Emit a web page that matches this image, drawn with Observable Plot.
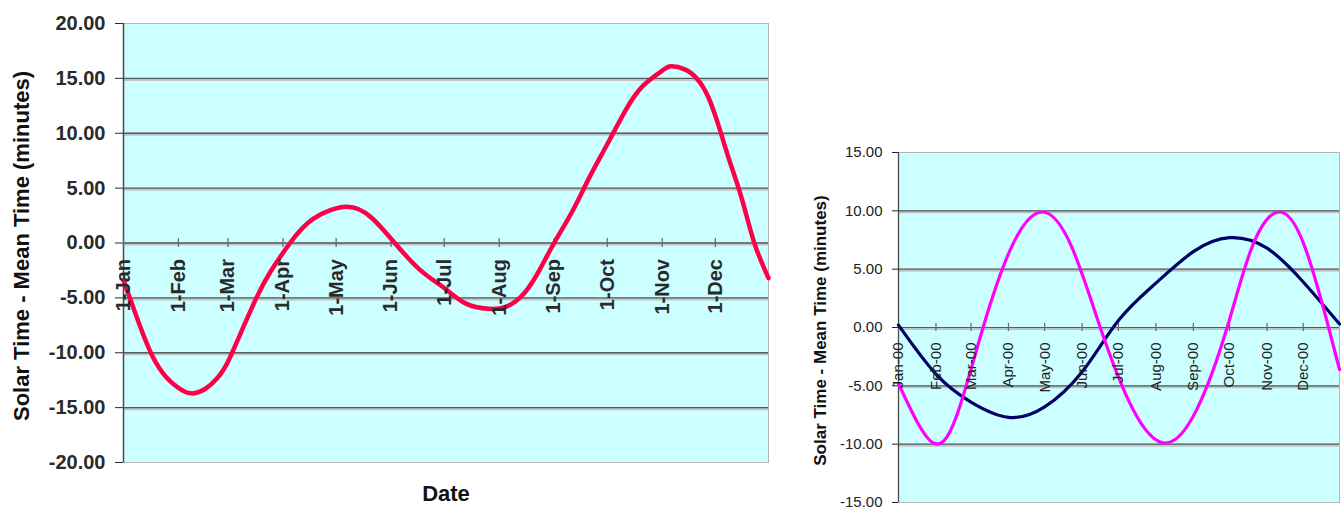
<!DOCTYPE html>
<html>
<head>
<meta charset="utf-8">
<script src="https://cdn.jsdelivr.net/npm/d3@7"></script>
<script src="https://cdn.jsdelivr.net/npm/@observablehq/plot@0.6"></script>
<style>
  html, body { margin: 0; padding: 0; background: #fff; }
  #wrap { position: relative; width: 1344px; height: 510px; overflow: hidden; font-family: "Liberation Sans", Arial, sans-serif; }
  #left { position: absolute; left: 0; top: 0; }
  #right { position: absolute; left: 800px; top: 130px; }
</style>
</head>
<body>
<div id="wrap"><div id="left"></div><div id="right"></div></div>
<script>
// ---------- Left chart data: Equation of time ----------
const leftDates = ["2001-01-01","2001-01-09","2001-01-17","2001-01-25","2001-02-01","2001-02-08","2001-02-16","2001-02-23","2001-03-01","2001-03-09","2001-03-17","2001-03-25","2001-04-05","2001-04-18","2001-05-07","2001-05-21","2001-06-02","2001-06-17","2001-07-01","2001-07-13","2001-07-26","2001-08-05","2001-08-15","2001-08-24","2001-09-01","2001-09-11","2001-09-21","2001-10-01","2001-10-11","2001-10-21","2001-11-01","2001-11-06","2001-11-14","2001-11-21","2001-11-27","2001-12-03","2001-12-09","2001-12-16","2001-12-23","2001-12-31"];
const leftValues = [-3.4,-7.0,-10.2,-12.2,-13.2,-13.7,-13.3,-12.3,-10.8,-7.9,-5.0,-2.6,0.0,2.2,3.3,2.3,0.2,-2.4,-4.1,-5.5,-6.0,-5.8,-4.6,-2.4,0.0,2.8,6.0,9.0,12.0,14.3,15.7,16.1,15.8,14.9,13.3,10.6,7.5,4.0,0.0,-3.2];
const leftMonthTicks = ["2001-01-01","2001-02-01","2001-03-01","2001-04-01","2001-05-01","2001-06-01","2001-07-01","2001-08-01","2001-09-01","2001-10-01","2001-11-01","2001-12-01"];
const leftMonthLabels = ["1-Jan","1-Feb","1-Mar","1-Apr","1-May","1-Jun","1-Jul","1-Aug","1-Sep","1-Oct","1-Nov","1-Dec"];
const leftYTicks = [-20,-15,-10,-5,0,5,10,15,20];
const leftGrid = [-15,-10,-5,0,5,10,15];
const leftDomainX = ["2001-01-01","2001-12-31"];
const leftDomainY = [-20,20];

// ---------- Right chart data: two components ----------
const navyDates = ["2000-01-01","2000-02-01","2000-03-01","2000-04-01","2000-05-01","2000-06-01","2000-07-01","2000-08-01","2000-09-01","2000-10-01","2000-11-01","2000-12-01","2000-12-31"];
const navyValues = [0.2,-4.0,-6.4,-7.7,-6.8,-3.8,0.6,3.8,6.5,7.7,6.8,3.9,0.3];
const magentaDates = ["2000-01-01","2000-01-30","2000-02-20","2000-03-11","2000-04-04","2000-04-29","2000-05-23","2000-06-16","2000-07-13","2000-08-09","2000-09-04","2000-09-29","2000-10-20","2000-11-11","2000-12-02","2000-12-22","2000-12-31"];
const magentaValues = [-4.8,-9.9,-7.0,0.0,7.0,9.9,7.0,0.0,-7.0,-9.9,-7.0,0.0,7.0,9.9,7.0,0.0,-3.6];
const rightMonthTicks = ["2000-01-01","2000-02-01","2000-03-01","2000-04-01","2000-05-01","2000-06-01","2000-07-01","2000-08-01","2000-09-01","2000-10-01","2000-11-01","2000-12-01"];
const rightMonthLabels = ["Jan-00","Feb-00","Mar-00","Apr-00","May-00","Jun-00","Jul-00","Aug-00","Sep-00","Oct-00","Nov-00","Dec-00"];
const rightYTicks = [-15,-10,-5,0,5,10,15];
const rightGrid = [-10,-5,0,5,10];
const rightDomainX = ["2000-01-01","2000-12-31"];
const rightDomainY = [-15,15];

const yTitle = "Solar Time - Mean Time (minutes)";
const xTitle = "Date";
const FONT = "'Liberation Sans', Arial, sans-serif";
const fmt = d => d.toFixed(2);
const toDate = s => new Date(s);

const leftData = leftDates.map((d, i) => ({date: toDate(d), value: leftValues[i]}));
const navyData = navyDates.map((d, i) => ({date: toDate(d), value: navyValues[i]}));
const magentaData = magentaDates.map((d, i) => ({date: toDate(d), value: magentaValues[i]}));

// ---------- Left chart ----------
const left = Plot.plot({
  width: 790, height: 510,
  marginLeft: 123, marginRight: 22, marginTop: 23, marginBottom: 48,
  style: {fontFamily: FONT, fontSize: "20px", fontWeight: "bold", color: "#2a2a2a", background: "transparent", overflow: "visible"},
  x: {type: "utc", domain: leftDomainX.map(toDate), axis: null},
  y: {domain: leftDomainY, ticks: leftYTicks, tickFormat: fmt, tickSize: 8, tickPadding: 10, label: null},
  marks: [
    Plot.frame({fill: "#ccffff", stroke: "#b4b4b4"}),
    Plot.ruleY(leftGrid, {stroke: "#c4c4c4", strokeWidth: 3, dy: 1}),
    Plot.ruleY(leftGrid, {stroke: "#4d5f5f", strokeWidth: 1.4}),
    Plot.ruleX([toDate(leftDomainX[0])], {stroke: "#4a4a4a", strokeWidth: 1.5}),
    Plot.ruleX(leftMonthTicks.map(toDate), {y1: -0.4, y2: 0.4, stroke: "#666", strokeWidth: 1.2}),
    Plot.line(leftData, {x: "date", y: "value", stroke: "#ff0048", strokeWidth: 4.5, curve: "natural"}),
    Plot.text(leftMonthTicks.map(toDate), {x: d => d, y: 0, text: (d, i) => leftMonthLabels[i], rotate: -90, textAnchor: "end", dy: 16, fontSize: 20, fontWeight: "bold", fill: "#2a2a2a"}),
    Plot.text([yTitle], {frameAnchor: "left", text: d => d, rotate: -90, textAnchor: "middle", dx: -102, dy: 3, fontSize: 22, fontWeight: "bold", fill: "#111"}),
    Plot.text([xTitle], {frameAnchor: "bottom", text: d => d, textAnchor: "middle", dy: 38, fontSize: 22, fontWeight: "bold", fill: "#111"})
  ]
});
document.getElementById("left").appendChild(left);

// ---------- Right chart ----------
const right = Plot.plot({
  width: 544, height: 380,
  marginLeft: 98, marginRight: 5, marginTop: 22, marginBottom: 8,
  style: {fontFamily: FONT, fontSize: "15px", color: "#222", background: "transparent", overflow: "visible"},
  x: {type: "utc", domain: rightDomainX.map(toDate), axis: null},
  y: {domain: rightDomainY, ticks: rightYTicks, tickFormat: fmt, tickSize: 6, tickPadding: 10, label: null},
  marks: [
    Plot.frame({fill: "#ccffff", stroke: "#b4b4b4"}),
    Plot.ruleY(rightGrid, {stroke: "#c4c4c4", strokeWidth: 3, dy: 1}),
    Plot.ruleY(rightGrid, {stroke: "#4d5f5f", strokeWidth: 1.2}),
    Plot.ruleX([toDate(rightDomainX[0])], {stroke: "#4a4a4a", strokeWidth: 1.3}),
    Plot.ruleX(rightMonthTicks.map(toDate), {y1: -0.35, y2: 0.35, stroke: "#666", strokeWidth: 1.2}),
    Plot.line(navyData, {x: "date", y: "value", stroke: "#000066", strokeWidth: 3.2, curve: "natural"}),
    Plot.line(magentaData, {x: "date", y: "value", stroke: "#ff00ff", strokeWidth: 3.2, curve: "natural"}),
    Plot.text(rightMonthTicks.map(toDate), {x: d => d, y: 0, text: (d, i) => rightMonthLabels[i], rotate: -90, textAnchor: "end", dy: 15, fontSize: 15, fill: "#222"}),
    Plot.text([yTitle], {frameAnchor: "left", text: d => d, rotate: -90, textAnchor: "middle", dx: -78, dy: 3, fontSize: 17, fontWeight: "bold", fill: "#111"})
  ]
});
document.getElementById("right").appendChild(right);
</script>
</body>
</html>
